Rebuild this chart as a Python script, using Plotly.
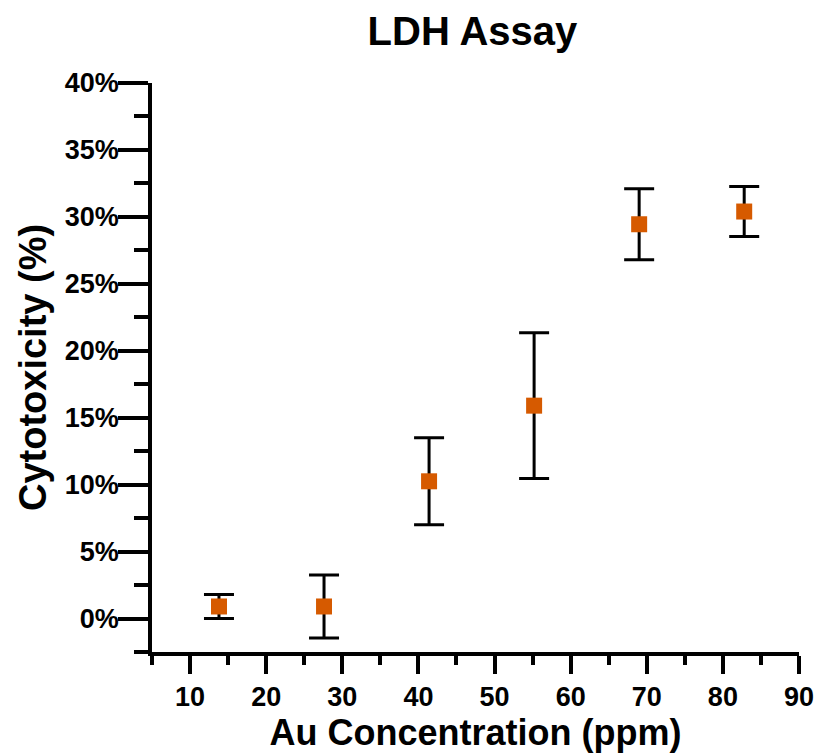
import plotly.graph_objects as go

# Data
au_ppm = [13.8, 27.6, 41.4, 55.2, 69.0, 82.8]
cytotoxicity_pct = [0.9, 0.9, 10.25, 15.9, 29.45, 30.4]
error_pct = [0.9, 2.35, 3.25, 5.45, 2.65, 1.87]

x_ticks = [10, 20, 30, 40, 50, 60, 70, 80, 90]
y_ticks = [0, 5, 10, 15, 20, 25, 30, 35, 40]

FONT = "Liberation Sans, Arial, sans-serif"
BLACK = "#000000"
ORANGE = "#D65A00"

fig = go.Figure()
fig.add_trace(go.Scatter(
    x=au_ppm,
    y=cytotoxicity_pct,
    mode="markers",
    marker=dict(symbol="square", size=16, color=ORANGE, line=dict(width=0)),
    error_y=dict(type="data", array=error_pct, visible=True,
                 color=BLACK, thickness=3, width=15),
    showlegend=False,
))

fig.update_layout(
    width=818, height=754,
    margin=dict(l=152, r=19, t=83, b=102),
    paper_bgcolor="white", plot_bgcolor="white",
    font=dict(family=FONT, color=BLACK),
    title=dict(text="<b>LDH Assay</b>", x=0.5776, xanchor="center",
               y=0.9589, yanchor="middle",
               font=dict(size=40, family=FONT, color=BLACK)),
)

fig.update_xaxes(
    range=[5, 90], automargin=False,
    tickmode="array", tickvals=x_ticks,
    ticktext=[f"<b>{v}</b>" for v in x_ticks],
    ticklabeloverflow="allow",
    ticks="outside", ticklen=18, tickwidth=3.5, tickcolor=BLACK,
    minor=dict(ticks="outside", dtick=5, tick0=0, ticklen=9, tickwidth=3.5, tickcolor=BLACK),
    showline=True, linewidth=3.5, linecolor=BLACK,
    showgrid=False, zeroline=False,
    tickfont=dict(size=27, family=FONT, color=BLACK),
    title=dict(text="<b>Au Concentration (ppm)</b>", standoff=6,
               font=dict(size=36, family=FONT, color=BLACK)),
)

fig.update_yaxes(
    range=[-2.5, 40], automargin=False,
    tickmode="array", tickvals=y_ticks,
    ticktext=[f"<b>{v}%</b>" for v in y_ticks],
    ticks="outside", ticklen=30, tickwidth=3.5, tickcolor=BLACK,
    ticklabelstandoff=-6,
    minor=dict(ticks="outside", dtick=2.5, tick0=0, ticklen=14, tickwidth=3.5, tickcolor=BLACK),
    showline=True, linewidth=3.5, linecolor=BLACK,
    showgrid=False, zeroline=False,
    tickfont=dict(size=27, family=FONT, color=BLACK),
    title=dict(text="<b>Cytotoxicity (%)</b>", standoff=8,
               font=dict(size=38, family=FONT, color=BLACK)),
)

# remove the browser's default page margin so the figure fills the window
fig.write_html(
    "out.html",
    config={"displayModeBar": False},
    post_script="document.body.style.margin='0';document.body.style.overflow='hidden';",
)
